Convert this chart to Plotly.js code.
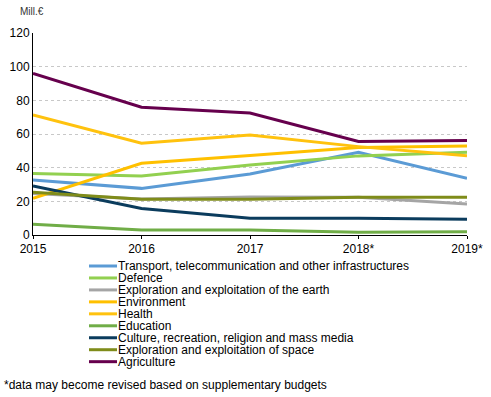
<!DOCTYPE html>
<html><head><meta charset="utf-8">
<script src="https://cdn.plot.ly/plotly-3.0.1.min.js"></script>
<style>html,body{margin:0;padding:0;background:#fff}#chart{width:491px;height:397px}</style>
</head><body><div id="chart"></div>
<script>
const years = ["2015", "2016", "2017", "2018*", "2019*"];
const seriesNames = ["Transport, telecommunication and other infrastructures", "Defence", "Exploration and exploitation of the earth", "Environment", "Health", "Education", "Culture, recreation, religion and mass media", "Exploration and exploitation of space", "Agriculture"];
const transport = [32.7, 27.7, 36.2, 49.1, 33.7];
const defence = [36.6, 35.0, 41.6, 47.0, 49.1];
const earth = [24.6, 21.4, 22.6, 22.5, 18.4];
const environment = [21.8, 42.6, 47.3, 52.0, 52.9];
const health = [71.3, 54.5, 59.4, 52.5, 47.0];
const education = [6.4, 3.0, 3.0, 1.6, 2.0];
const culture = [29.1, 15.8, 9.9, 9.9, 9.3];
const space = [25.4, 21.2, 21.2, 22.4, 22.4];
const agriculture = [96.0, 75.9, 72.5, 55.6, 56.2];
const values = [transport, defence, earth, environment, health, education, culture, space, agriculture];
const colors = ["#5B9BD5", "#92D050", "#A5A5A5", "#FFC000", "#FFC20E", "#70AD47", "#0B3C5D", "#7F8C1A", "#66004D"];

const traces = values.map((v, i) => ({
  x: years, y: v, name: seriesNames[i], type: "scatter", mode: "lines",
  line: {color: colors[i], width: 3}
}));

// plot area in pixels: left 33, right 467, top 33, bottom 235
const L = 33, R = 467, T = 33, B = 235;
const px = x => (x - L) / (R - L);
const py = y => (B - y) / (B - T);

const shapes = [];
const annotations = [
  {text: "Mill.€", xref: "paper", yref: "paper", x: px(18), y: py(12), xanchor: "left", yanchor: "middle", showarrow: false, font: {size: 10, color: "#333"}},
  {text: "*data may become revised based on supplementary budgets", xref: "paper", yref: "paper", x: px(2), y: py(385), xanchor: "left", yanchor: "middle", showarrow: false, font: {size: 12}}
];
seriesNames.forEach((n, i) => {
  const yc = 266 + 11.96 * i;
  shapes.push({type: "line", xref: "paper", yref: "paper", x0: px(89), x1: px(117), y0: py(yc), y1: py(yc), line: {color: colors[i], width: 3}});
  annotations.push({text: n, xref: "paper", yref: "paper", x: px(116), y: py(yc), xanchor: "left", yanchor: "middle", showarrow: false, font: {size: 12}});
});

const layout = {
  width: 491, height: 397,
  margin: {l: L, r: 491 - R, t: T, b: 397 - B},
  paper_bgcolor: "#fff", plot_bgcolor: "#fff",
  font: {family: "Liberation Sans, Arial, sans-serif", size: 12, color: "#000"},
  showlegend: false,
  xaxis: {type: "category", range: [0, 4], showgrid: false, showline: true, linecolor: "#000", linewidth: 1,
    ticks: "outside", ticklen: 3, tickcolor: "#000", tickfont: {size: 12}, zeroline: false, fixedrange: true},
  yaxis: {range: [0, 120], dtick: 20, showgrid: true, gridcolor: "#c8c8c8", griddash: "dot", gridwidth: 1,
    showline: true, linecolor: "#000", linewidth: 1, ticks: "", tickfont: {size: 12}, zeroline: false, fixedrange: true},
  shapes: shapes,
  annotations: annotations
};
Plotly.newPlot("chart", traces, layout, {displayModeBar: false, staticPlot: true});
</script></body></html>
